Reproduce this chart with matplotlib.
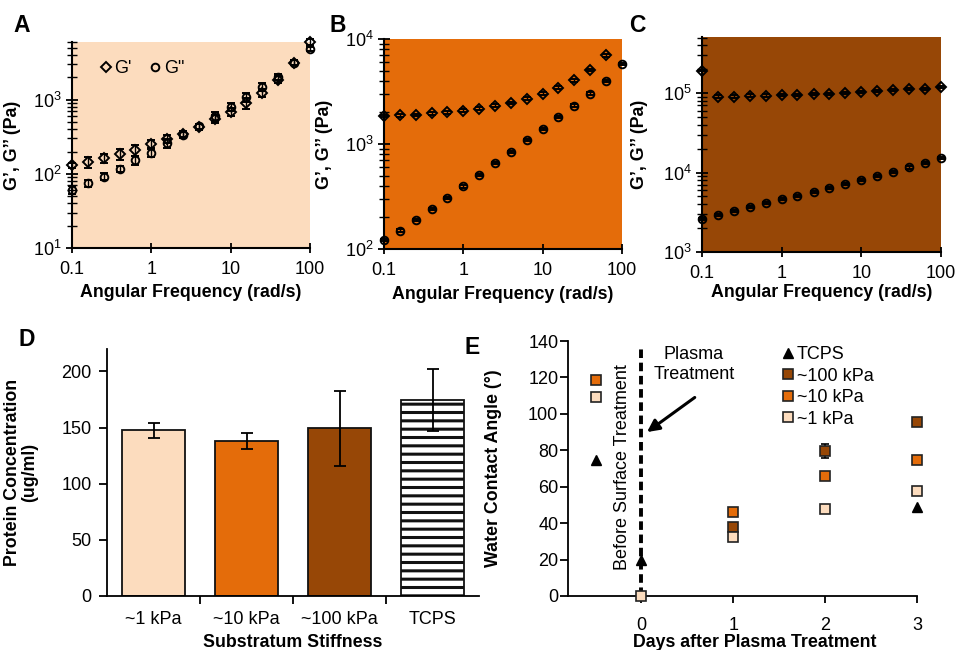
import numpy as np
import matplotlib
matplotlib.use("Agg")
import matplotlib.pyplot as plt
from matplotlib.ticker import LogLocator, LogFormatterMathtext, NullFormatter, FixedLocator
from matplotlib.lines import Line2D

plt.rcParams['font.family'] = ['Liberation Sans', 'DejaVu Sans']
plt.rcParams['mathtext.fontset'] = 'custom'
plt.rcParams['mathtext.rm'] = 'Liberation Sans'
plt.rcParams['hatch.linewidth'] = 2.2

# ---------------- data ----------------
freq = [0.1, 0.158, 0.251, 0.398, 0.631, 1.0, 1.58, 2.51, 3.98, 6.31, 10.0, 15.8, 25.1, 39.8, 63.1, 100.0]

a_gp = [130, 144, 163, 186, 211, 254, 294, 344, 427, 553, 690, 900, 1230, 1860, 3150, 6000]
a_gp_err = [10, 25, 25, 30, 35, 30, 35, 30, 40, 70, 80, 150, 150, 200, 250, 500]
a_gpp = [61, 75, 92, 117, 153, 194, 259, 336, 437, 596, 795, 1087, 1486, 2025, 3170, 4840]
a_gpp_err = [8, 8, 10, 12, 20, 25, 35, 30, 40, 80, 100, 150, 180, 200, 250, 300]

b_gp = [1849, 1875, 1900, 1958, 2000, 2075, 2170, 2318, 2457, 2703, 3016, 3442, 4040, 5070, 6990, np.nan]
b_gp_err = [50, 50, 50, 50, 60, 60, 60, 70, 70, 80, 90, 100, 120, 150, 200, 0]
b_gpp = [122, 150, 189, 242, 308, 395, 507, 659, 839, 1091, 1399, 1807, 2318, 3016, 4010, 5820]
b_gpp_err = [3, 4, 5, 6, 8, 10, 13, 17, 22, 28, 36, 46, 60, 78, 100, 150]

c_gp = [193000, 90800, 90800, 93500, 93500, 95000, 96000, 99000, 99000, 102000, 105000, 108000, 110000, 112000, 114000, 120000]
c_gp_err = [5000, 3000, 3000, 3000, 3000, 3000, 3000, 3000, 3000, 3000, 3000, 3000, 3000, 3000, 3000, 3000]
c_gpp = [2630, 2950, 3260, 3690, 4150, 4620, 5080, 5760, 6410, 7270, 8000, 8990, 10200, 11600, 13100, 15300]
c_gpp_err = [80, 90, 100, 110, 120, 140, 150, 170, 190, 220, 240, 270, 300, 350, 400, 450]

d_categories = ['~1 kPa', '~10 kPa', '~100 kPa', 'TCPS']
d_values = [147.5, 138.0, 149.5, 174.5]
d_errors = [7.0, 7.0, 33.5, 27.5]

e_tcps_x = [-0.5, 0, 3]
e_tcps_y = [74.5, 19.5, 49.0]
e_100_x = [1, 2, 3]
e_100_y = [38.0, 79.5, 95.5]
e_100_err = [2.0, 4.0, 1.5]
e_10_x = [-0.5, 1, 2, 3]
e_10_y = [118.5, 46.0, 66.0, 74.5]
e_10_err = [1.0, 1.5, 1.5, 1.5]
e_1_x = [-0.5, 0, 1, 2, 3]
e_1_y = [109.0, 0.0, 32.5, 47.5, 57.5]
e_1_err = [1.0, 0.0, 1.0, 1.0, 1.0]
e_xticks = [0, 1, 2, 3]

peach = '#FCDCBE'
orange = '#E46C0A'
brown = '#974706'

W, H = 957, 650
fig = plt.figure(figsize=(W / 100, H / 100), dpi=100)

def rect(l, r, t, b):
    return [l / W, 1 - b / H, (r - l) / W, (b - t) / H]

TS = 13
LS = 12.8

def rheo_axes(r, bg, gp, gperr, gpp, gpperr, ylim, ylab_x, xlab_y):
    ax = fig.add_axes(r)
    ax.set_facecolor(bg)
    ax.set_xscale('log')
    ax.set_yscale('log')
    ax.set_xlim(0.1, 100)
    ax.set_ylim(*ylim)
    for s in ['top', 'right']:
        ax.spines[s].set_visible(False)
    for s in ['left', 'bottom']:
        ax.spines[s].set_linewidth(1.5)
    ax.errorbar(freq, gp, yerr=gperr, fmt='D', ms=5, mfc='none', mec='k', mew=1.4,
                ecolor='k', elinewidth=1.0, capsize=3, capthick=1.0, clip_on=False, zorder=3)
    ax.errorbar(freq, gpp, yerr=gpperr, fmt='o', ms=5.5, mfc='none', mec='k', mew=1.4,
                ecolor='k', elinewidth=1.0, capsize=3, capthick=1.0, clip_on=False, zorder=3)
    ax.xaxis.set_major_locator(FixedLocator([0.1, 1, 10, 100]))
    ax.xaxis.set_major_formatter(plt.FuncFormatter(lambda v, p: {0.1: '0.1', 1: '1', 10: '10', 100: '100'}.get(round(v, 1), '')))
    ax.xaxis.set_minor_locator(plt.NullLocator())
    ax.yaxis.set_major_locator(LogLocator(base=10))
    ax.yaxis.set_major_formatter(LogFormatterMathtext())
    ax.yaxis.set_minor_locator(LogLocator(base=10, subs=np.arange(2, 10)))
    ax.yaxis.set_minor_formatter(NullFormatter())
    ax.tick_params(axis='y', which='major', direction='inout', length=9, width=1.3, labelsize=TS, pad=3)
    ax.tick_params(axis='y', which='minor', direction='inout', length=7, width=1.0)
    ax.tick_params(axis='x', which='major', direction='inout', length=7, width=1.3, labelsize=TS, pad=6)
    ax.set_xlabel('Angular Frequency (rad/s)', fontsize=LS, fontweight='bold')
    ax.set_ylabel('G’, G’’ (Pa)', fontsize=LS, fontweight='bold')
    ax.yaxis.set_label_coords(ylab_x, 0.5)
    ax.xaxis.set_label_coords(0.5, xlab_y)
    return ax

axA = rheo_axes(rect(72, 310, 42, 248), peach, a_gp, a_gp_err, a_gpp, a_gpp_err, (10, 6000), -0.215, -0.175)
axB = rheo_axes(rect(384, 622, 39, 249), orange, b_gp, b_gp_err, b_gpp, b_gpp_err, (100, 10000), -0.215, -0.175)
axC = rheo_axes(rect(702, 941, 37, 252), brown, c_gp, c_gp_err, c_gpp, c_gpp_err, (1000, 5.1e5), -0.225, -0.15)

# legend A
hA = [Line2D([], [], ls='none', marker='D', ms=5, mfc='none', mec='k', mew=1.4),
      Line2D([], [], ls='none', marker='o', ms=5.5, mfc='none', mec='k', mew=1.4)]
axA.legend(hA, ["G'", 'G"'], ncol=2, frameon=False, fontsize=TS, loc='upper left',
           bbox_to_anchor=(0.05, 0.99), handlelength=0.6, handletextpad=0.2, columnspacing=1.0)

# ---------------- D ----------------
axD = fig.add_axes(rect(107, 479, 349, 596))
xpos = np.arange(len(d_categories))
colors = [peach, orange, brown, 'white']
bars = axD.bar(xpos, d_values, width=0.67, color=colors, edgecolor='#111111', linewidth=1.3, zorder=2)
bars[3].set_hatch('--')
axD.errorbar(xpos, d_values, yerr=d_errors, fmt='none', ecolor='k', elinewidth=1.3, capsize=4, capthick=1.3, zorder=3)
axD.set_xlim(-0.5, 3.5)
axD.set_ylim(0, 220)
axD.set_yticks([0, 50, 100, 150, 200])
axD.set_xticks(xpos)
axD.set_xticklabels(d_categories)
axD.set_xticks([0.5, 1.5, 2.5], minor=True)
axD.tick_params(axis='x', which='major', length=0, labelsize=TS, pad=11)
axD.tick_params(axis='x', which='minor', direction='out', length=6, width=1.3)
axD.tick_params(axis='y', direction='out', length=6, width=1.3, labelsize=TS, pad=5)
for s in ['top', 'right']:
    axD.spines[s].set_visible(False)
for s in ['left', 'bottom']:
    axD.spines[s].set_linewidth(1.3)
axD.set_xlabel('Substratum Stiffness', fontsize=LS, fontweight='bold')
axD.set_ylabel('Protein Concentration\n(ug/ml)', fontsize=LS, fontweight='bold', linespacing=1.0)
axD.yaxis.set_label_coords(-0.185, 0.5)
axD.xaxis.set_label_coords(0.5, -0.155)

# ---------------- E ----------------
axE = fig.add_axes(rect(568, 917, 341, 596))
axE.set_xlim(-0.8, 3)
axE.set_ylim(0, 140)
axE.plot([0, 0], [0, 136], color='k', lw=2.8, ls=(0, (2.2, 1.2)), zorder=2)
sq = dict(fmt='s', ms=7, mec='#222222', mew=1.2, ecolor='k', elinewidth=1.2, capsize=3, clip_on=False, zorder=4)
axE.plot(e_tcps_x, e_tcps_y, ls='none', marker='^', ms=7.5, color='k', clip_on=False, zorder=4)
axE.errorbar(e_100_x, e_100_y, yerr=e_100_err, mfc=brown, **sq)
axE.errorbar(e_10_x, e_10_y, yerr=e_10_err, mfc=orange, **sq)
axE.errorbar(e_1_x, e_1_y, yerr=e_1_err, mfc=peach, **sq)
axE.set_xticks(e_xticks)
axE.set_yticks(np.arange(0, 141, 20))
axE.tick_params(axis='x', direction='out', length=5, width=1.3, labelsize=TS, pad=10)
axE.tick_params(axis='y', direction='out', length=6, width=1.3, labelsize=TS, pad=1)
for s in ['top', 'right']:
    axE.spines[s].set_visible(False)
for s in ['left', 'bottom']:
    axE.spines[s].set_linewidth(1.3)
axE.set_xlabel('Days after Plasma Treatment', fontsize=LS, fontweight='bold')
axE.set_ylabel('Water Contact Angle (°)', fontsize=LS, fontweight='bold')
axE.yaxis.set_label_coords(-0.19, 0.5)
axE.xaxis.set_label_coords(0.535, -0.15)
axE.text(-0.21, 71, 'Before Surface Treatment', rotation=90, ha='center', va='center', fontsize=TS)
axE.text(0.57, 127, 'Plasma\nTreatment', ha='center', va='center', fontsize=TS, linespacing=1.2)
axE.annotate('', xy=(0.06, 90), xytext=(0.58, 109),
             arrowprops=dict(arrowstyle='-|>', lw=2.2, color='k', mutation_scale=18, shrinkA=0, shrinkB=0))
hE = [Line2D([], [], ls='none', marker='^', ms=7.5, color='k'),
      Line2D([], [], ls='none', marker='s', ms=7, mfc=brown, mec='#222222', mew=1.2),
      Line2D([], [], ls='none', marker='s', ms=7, mfc=orange, mec='#222222', mew=1.2),
      Line2D([], [], ls='none', marker='s', ms=7, mfc=peach, mec='#222222', mew=1.2)]
axE.legend(hE, ['TCPS', '~100 kPa', '~10 kPa', '~1 kPa'], loc='upper left', bbox_to_anchor=(0.58, 1.03),
           frameon=False, fontsize=TS, handlelength=0.6, handletextpad=0.15, labelspacing=0.25, borderpad=0.2)

# panel letters
for txt, x, y in [('A', 22, 25), ('B', 338, 25), ('C', 637, 25), ('D', 27, 340), ('E', 472, 347)]:
    fig.text(x / W, 1 - y / H, txt, fontsize=16.5, fontweight='bold', ha='center', va='center')

fig.savefig('out.png', dpi=100)
